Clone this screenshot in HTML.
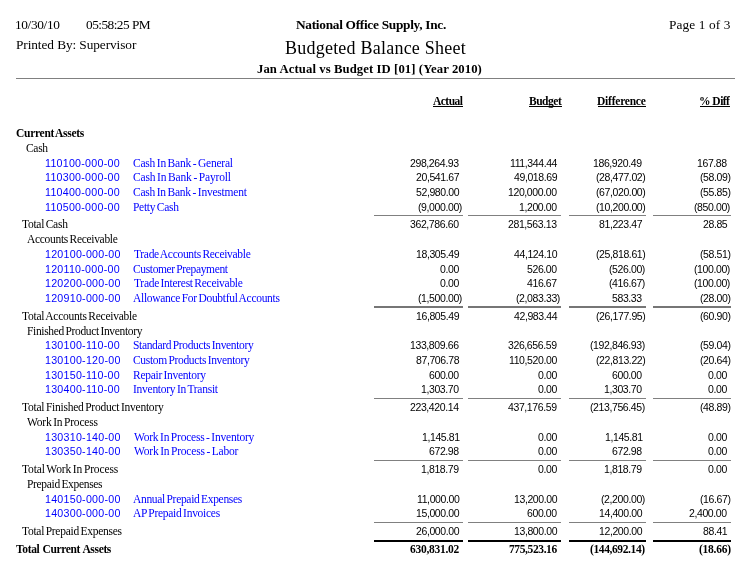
<!DOCTYPE html><html><head><meta charset='utf-8'><style>
html,body{margin:0;padding:0;background:#fff;}body{width:755px;height:563px;position:relative;overflow:hidden;}
.t{position:absolute;white-space:pre;line-height:20px;will-change:transform;}
.r{position:absolute;}
</style></head><body>
<div class='t' style="left:14.79px;top:15.00px;font-family:'Liberation Serif',serif;font-size:13.33px;letter-spacing:-0.358px;">10/30/10</div>
<div class='t' style="left:86.04px;top:15.00px;font-family:'Liberation Serif',serif;font-size:13.33px;letter-spacing:-0.534px;">05:58:25 PM</div>
<div class='t' style="left:15.59px;top:35.00px;font-family:'Liberation Serif',serif;font-size:13.33px;letter-spacing:-0.088px;">Printed By: Supervisor</div>
<div class='t' style="left:295.57px;top:15.00px;font-family:'Liberation Serif',serif;font-size:13.33px;font-weight:700;letter-spacing:-0.292px;">National Office Supply, Inc.</div>
<div class='t' style="left:284.56px;top:38.00px;font-family:'Liberation Serif',serif;font-size:18px;letter-spacing:0.226px;">Budgeted Balance Sheet</div>
<div class='t' style="left:256.53px;top:59.00px;font-family:'Liberation Serif',serif;font-size:12.7px;font-weight:700;letter-spacing:0.087px;">Jan Actual vs Budget ID [01] (Year 2010)</div>
<div class='t' style="left:669.30px;top:15.00px;font-family:'Liberation Serif',serif;font-size:13.33px;letter-spacing:0.102px;">Page 1 of 3</div>
<div class='t' style="left:432.95px;top:91.00px;font-family:'Liberation Serif',serif;font-size:11.5px;font-weight:700;letter-spacing:-0.522px;">Actual</div>
<div class='t' style="left:528.50px;top:91.00px;font-family:'Liberation Serif',serif;font-size:11.5px;font-weight:700;letter-spacing:-0.484px;">Budget</div>
<div class='t' style="left:597.46px;top:91.00px;font-family:'Liberation Serif',serif;font-size:11.5px;font-weight:700;letter-spacing:-0.224px;">Difference</div>
<div class='t' style="left:698.80px;top:91.00px;font-family:'Liberation Serif',serif;font-size:11.5px;font-weight:700;letter-spacing:-0.517px;">% Diff</div>
<div class='t' style="left:16.16px;top:123.00px;font-family:'Liberation Serif',serif;font-size:11.5px;font-weight:700;letter-spacing:-0.285px;word-spacing:-1.000px;">Current Assets</div>
<div class='t' style="left:26.05px;top:138.00px;font-family:'Liberation Serif',serif;font-size:11.5px;letter-spacing:-0.324px;word-spacing:-1.000px;">Cash</div>
<div class='t' style="left:45.05px;top:153.00px;font-family:'Liberation Sans',sans-serif;font-size:10.67px;color:#0000ff;letter-spacing:0.256px;">110100-000-00</div>
<div class='t' style="left:133.45px;top:153.00px;font-family:'Liberation Serif',serif;font-size:11.5px;color:#0000ff;letter-spacing:-0.218px;word-spacing:-1.000px;">Cash In Bank - General</div>
<div class='t' style="left:410.44px;top:153.00px;font-family:'Liberation Sans',sans-serif;font-size:10.5px;letter-spacing:-0.394px;">298,264.93</div>
<div class='t' style="left:510.27px;top:153.00px;font-family:'Liberation Sans',sans-serif;font-size:10.5px;letter-spacing:-0.394px;">111,344.44</div>
<div class='t' style="left:593.45px;top:153.00px;font-family:'Liberation Sans',sans-serif;font-size:10.5px;letter-spacing:-0.394px;">186,920.49</div>
<div class='t' style="left:697.42px;top:153.00px;font-family:'Liberation Sans',sans-serif;font-size:10.5px;letter-spacing:-0.394px;">167.88</div>
<div class='t' style="left:45.05px;top:167.00px;font-family:'Liberation Sans',sans-serif;font-size:10.67px;color:#0000ff;letter-spacing:0.256px;">110300-000-00</div>
<div class='t' style="left:133.45px;top:167.00px;font-family:'Liberation Serif',serif;font-size:11.5px;color:#0000ff;letter-spacing:-0.159px;word-spacing:-1.000px;">Cash In Bank - Payroll</div>
<div class='t' style="left:416.03px;top:167.00px;font-family:'Liberation Sans',sans-serif;font-size:10.5px;letter-spacing:-0.394px;">20,541.67</div>
<div class='t' style="left:514.04px;top:167.00px;font-family:'Liberation Sans',sans-serif;font-size:10.5px;letter-spacing:-0.394px;">49,018.69</div>
<div class='t' style="left:596.10px;top:167.00px;font-family:'Liberation Sans',sans-serif;font-size:10.5px;letter-spacing:-0.394px;">(28,477.02)</div>
<div class='t' style="left:699.70px;top:167.00px;font-family:'Liberation Sans',sans-serif;font-size:10.5px;letter-spacing:-0.394px;">(58.09)</div>
<div class='t' style="left:45.05px;top:182.00px;font-family:'Liberation Sans',sans-serif;font-size:10.67px;color:#0000ff;letter-spacing:0.256px;">110400-000-00</div>
<div class='t' style="left:133.45px;top:182.00px;font-family:'Liberation Serif',serif;font-size:11.5px;color:#0000ff;letter-spacing:-0.226px;word-spacing:-1.000px;">Cash In Bank - Investment</div>
<div class='t' style="left:415.87px;top:182.00px;font-family:'Liberation Sans',sans-serif;font-size:10.5px;letter-spacing:-0.394px;">52,980.00</div>
<div class='t' style="left:508.39px;top:182.00px;font-family:'Liberation Sans',sans-serif;font-size:10.5px;letter-spacing:-0.394px;">120,000.00</div>
<div class='t' style="left:596.10px;top:182.00px;font-family:'Liberation Sans',sans-serif;font-size:10.5px;letter-spacing:-0.394px;">(67,020.00)</div>
<div class='t' style="left:699.70px;top:182.00px;font-family:'Liberation Sans',sans-serif;font-size:10.5px;letter-spacing:-0.394px;">(55.85)</div>
<div class='t' style="left:45.05px;top:197.00px;font-family:'Liberation Sans',sans-serif;font-size:10.67px;color:#0000ff;letter-spacing:0.256px;">110500-000-00</div>
<div class='t' style="left:133.22px;top:197.00px;font-family:'Liberation Serif',serif;font-size:11.5px;color:#0000ff;letter-spacing:-0.283px;word-spacing:-1.000px;">Petty Cash</div>
<div class='t' style="left:418.46px;top:197.00px;font-family:'Liberation Sans',sans-serif;font-size:10.5px;letter-spacing:-0.394px;">(9,000.00)</div>
<div class='t' style="left:519.39px;top:197.00px;font-family:'Liberation Sans',sans-serif;font-size:10.5px;letter-spacing:-0.394px;">1,200.00</div>
<div class='t' style="left:596.10px;top:197.00px;font-family:'Liberation Sans',sans-serif;font-size:10.5px;letter-spacing:-0.394px;">(10,200.00)</div>
<div class='t' style="left:694.46px;top:197.00px;font-family:'Liberation Sans',sans-serif;font-size:10.5px;letter-spacing:-0.394px;">(850.00)</div>
<div class='t' style="left:22.21px;top:214.00px;font-family:'Liberation Serif',serif;font-size:11.5px;letter-spacing:-0.273px;word-spacing:-1.000px;">Total Cash</div>
<div class='t' style="left:410.39px;top:214.00px;font-family:'Liberation Sans',sans-serif;font-size:10.5px;letter-spacing:-0.394px;">362,786.60</div>
<div class='t' style="left:508.44px;top:214.00px;font-family:'Liberation Sans',sans-serif;font-size:10.5px;letter-spacing:-0.394px;">281,563.13</div>
<div class='t' style="left:599.03px;top:214.00px;font-family:'Liberation Sans',sans-serif;font-size:10.5px;letter-spacing:-0.394px;">81,223.47</div>
<div class='t' style="left:703.14px;top:214.00px;font-family:'Liberation Sans',sans-serif;font-size:10.5px;letter-spacing:-0.394px;">28.85</div>
<div class='t' style="left:26.73px;top:229.00px;font-family:'Liberation Serif',serif;font-size:11.5px;letter-spacing:-0.309px;word-spacing:-1.000px;">Accounts Receivable</div>
<div class='t' style="left:45.05px;top:244.00px;font-family:'Liberation Sans',sans-serif;font-size:10.67px;color:#0000ff;letter-spacing:0.256px;">120100-000-00</div>
<div class='t' style="left:133.71px;top:244.00px;font-family:'Liberation Serif',serif;font-size:11.5px;color:#0000ff;letter-spacing:-0.303px;word-spacing:-1.000px;">Trade Accounts Receivable</div>
<div class='t' style="left:416.04px;top:244.00px;font-family:'Liberation Sans',sans-serif;font-size:10.5px;letter-spacing:-0.394px;">18,305.49</div>
<div class='t' style="left:513.87px;top:244.00px;font-family:'Liberation Sans',sans-serif;font-size:10.5px;letter-spacing:-0.394px;">44,124.10</div>
<div class='t' style="left:596.10px;top:244.00px;font-family:'Liberation Sans',sans-serif;font-size:10.5px;letter-spacing:-0.394px;">(25,818.61)</div>
<div class='t' style="left:699.70px;top:244.00px;font-family:'Liberation Sans',sans-serif;font-size:10.5px;letter-spacing:-0.394px;">(58.51)</div>
<div class='t' style="left:45.05px;top:259.00px;font-family:'Liberation Sans',sans-serif;font-size:10.67px;color:#0000ff;letter-spacing:0.256px;">120110-000-00</div>
<div class='t' style="left:133.45px;top:259.00px;font-family:'Liberation Serif',serif;font-size:11.5px;color:#0000ff;letter-spacing:-0.363px;word-spacing:-1.000px;">Customer Prepayment</div>
<div class='t' style="left:440.15px;top:259.00px;font-family:'Liberation Sans',sans-serif;font-size:10.5px;letter-spacing:-0.394px;">0.00</div>
<div class='t' style="left:527.39px;top:259.00px;font-family:'Liberation Sans',sans-serif;font-size:10.5px;letter-spacing:-0.394px;">526.00</div>
<div class='t' style="left:609.46px;top:259.00px;font-family:'Liberation Sans',sans-serif;font-size:10.5px;letter-spacing:-0.394px;">(526.00)</div>
<div class='t' style="left:694.46px;top:259.00px;font-family:'Liberation Sans',sans-serif;font-size:10.5px;letter-spacing:-0.394px;">(100.00)</div>
<div class='t' style="left:45.05px;top:273.00px;font-family:'Liberation Sans',sans-serif;font-size:10.67px;color:#0000ff;letter-spacing:0.256px;">120200-000-00</div>
<div class='t' style="left:133.71px;top:273.00px;font-family:'Liberation Serif',serif;font-size:11.5px;color:#0000ff;letter-spacing:-0.285px;word-spacing:-1.000px;">Trade Interest Receivable</div>
<div class='t' style="left:440.15px;top:273.00px;font-family:'Liberation Sans',sans-serif;font-size:10.5px;letter-spacing:-0.394px;">0.00</div>
<div class='t' style="left:527.47px;top:273.00px;font-family:'Liberation Sans',sans-serif;font-size:10.5px;letter-spacing:-0.394px;">416.67</div>
<div class='t' style="left:609.46px;top:273.00px;font-family:'Liberation Sans',sans-serif;font-size:10.5px;letter-spacing:-0.394px;">(416.67)</div>
<div class='t' style="left:694.46px;top:273.00px;font-family:'Liberation Sans',sans-serif;font-size:10.5px;letter-spacing:-0.394px;">(100.00)</div>
<div class='t' style="left:45.05px;top:288.00px;font-family:'Liberation Sans',sans-serif;font-size:10.67px;color:#0000ff;letter-spacing:0.256px;">120910-000-00</div>
<div class='t' style="left:133.33px;top:288.00px;font-family:'Liberation Serif',serif;font-size:11.5px;color:#0000ff;letter-spacing:-0.293px;word-spacing:-1.000px;">Allowance For Doubtful Accounts</div>
<div class='t' style="left:418.46px;top:288.00px;font-family:'Liberation Sans',sans-serif;font-size:10.5px;letter-spacing:-0.394px;">(1,500.00)</div>
<div class='t' style="left:516.46px;top:288.00px;font-family:'Liberation Sans',sans-serif;font-size:10.5px;letter-spacing:-0.394px;">(2,083.33)</div>
<div class='t' style="left:612.44px;top:288.00px;font-family:'Liberation Sans',sans-serif;font-size:10.5px;letter-spacing:-0.394px;">583.33</div>
<div class='t' style="left:699.70px;top:288.00px;font-family:'Liberation Sans',sans-serif;font-size:10.5px;letter-spacing:-0.394px;">(28.00)</div>
<div class='t' style="left:22.21px;top:306.00px;font-family:'Liberation Serif',serif;font-size:11.5px;letter-spacing:-0.247px;word-spacing:-1.000px;">Total Accounts Receivable</div>
<div class='t' style="left:416.04px;top:306.00px;font-family:'Liberation Sans',sans-serif;font-size:10.5px;letter-spacing:-0.394px;">16,805.49</div>
<div class='t' style="left:514.20px;top:306.00px;font-family:'Liberation Sans',sans-serif;font-size:10.5px;letter-spacing:-0.394px;">42,983.44</div>
<div class='t' style="left:596.10px;top:306.00px;font-family:'Liberation Sans',sans-serif;font-size:10.5px;letter-spacing:-0.394px;">(26,177.95)</div>
<div class='t' style="left:699.70px;top:306.00px;font-family:'Liberation Sans',sans-serif;font-size:10.5px;letter-spacing:-0.394px;">(60.90)</div>
<div class='t' style="left:26.62px;top:321.00px;font-family:'Liberation Serif',serif;font-size:11.5px;letter-spacing:-0.336px;word-spacing:-1.000px;">Finished Product Inventory</div>
<div class='t' style="left:45.05px;top:335.00px;font-family:'Liberation Sans',sans-serif;font-size:10.67px;color:#0000ff;letter-spacing:0.256px;">130100-110-00</div>
<div class='t' style="left:133.22px;top:335.00px;font-family:'Liberation Serif',serif;font-size:11.5px;color:#0000ff;letter-spacing:-0.340px;word-spacing:-1.000px;">Standard Products Inventory</div>
<div class='t' style="left:410.43px;top:335.00px;font-family:'Liberation Sans',sans-serif;font-size:10.5px;letter-spacing:-0.394px;">133,809.66</div>
<div class='t' style="left:508.45px;top:335.00px;font-family:'Liberation Sans',sans-serif;font-size:10.5px;letter-spacing:-0.394px;">326,656.59</div>
<div class='t' style="left:590.46px;top:335.00px;font-family:'Liberation Sans',sans-serif;font-size:10.5px;letter-spacing:-0.394px;">(192,846.93)</div>
<div class='t' style="left:699.70px;top:335.00px;font-family:'Liberation Sans',sans-serif;font-size:10.5px;letter-spacing:-0.394px;">(59.04)</div>
<div class='t' style="left:45.05px;top:350.00px;font-family:'Liberation Sans',sans-serif;font-size:10.67px;color:#0000ff;letter-spacing:0.256px;">130100-120-00</div>
<div class='t' style="left:133.45px;top:350.00px;font-family:'Liberation Serif',serif;font-size:11.5px;color:#0000ff;letter-spacing:-0.321px;word-spacing:-1.000px;">Custom Products Inventory</div>
<div class='t' style="left:416.14px;top:350.00px;font-family:'Liberation Sans',sans-serif;font-size:10.5px;letter-spacing:-0.394px;">87,706.78</div>
<div class='t' style="left:509.15px;top:350.00px;font-family:'Liberation Sans',sans-serif;font-size:10.5px;letter-spacing:-0.394px;">110,520.00</div>
<div class='t' style="left:596.10px;top:350.00px;font-family:'Liberation Sans',sans-serif;font-size:10.5px;letter-spacing:-0.394px;">(22,813.22)</div>
<div class='t' style="left:699.70px;top:350.00px;font-family:'Liberation Sans',sans-serif;font-size:10.5px;letter-spacing:-0.394px;">(20.64)</div>
<div class='t' style="left:45.05px;top:365.00px;font-family:'Liberation Sans',sans-serif;font-size:10.67px;color:#0000ff;letter-spacing:0.256px;">130150-110-00</div>
<div class='t' style="left:133.22px;top:365.00px;font-family:'Liberation Serif',serif;font-size:11.5px;color:#0000ff;letter-spacing:-0.285px;word-spacing:-1.000px;">Repair Inventory</div>
<div class='t' style="left:429.39px;top:365.00px;font-family:'Liberation Sans',sans-serif;font-size:10.5px;letter-spacing:-0.394px;">600.00</div>
<div class='t' style="left:538.15px;top:365.00px;font-family:'Liberation Sans',sans-serif;font-size:10.5px;letter-spacing:-0.394px;">0.00</div>
<div class='t' style="left:612.39px;top:365.00px;font-family:'Liberation Sans',sans-serif;font-size:10.5px;letter-spacing:-0.394px;">600.00</div>
<div class='t' style="left:708.15px;top:365.00px;font-family:'Liberation Sans',sans-serif;font-size:10.5px;letter-spacing:-0.394px;">0.00</div>
<div class='t' style="left:45.05px;top:379.00px;font-family:'Liberation Sans',sans-serif;font-size:10.67px;color:#0000ff;letter-spacing:0.256px;">130400-110-00</div>
<div class='t' style="left:133.18px;top:379.00px;font-family:'Liberation Serif',serif;font-size:11.5px;color:#0000ff;letter-spacing:-0.263px;word-spacing:-1.000px;">Inventory In Transit</div>
<div class='t' style="left:421.39px;top:379.00px;font-family:'Liberation Sans',sans-serif;font-size:10.5px;letter-spacing:-0.394px;">1,303.70</div>
<div class='t' style="left:538.15px;top:379.00px;font-family:'Liberation Sans',sans-serif;font-size:10.5px;letter-spacing:-0.394px;">0.00</div>
<div class='t' style="left:604.39px;top:379.00px;font-family:'Liberation Sans',sans-serif;font-size:10.5px;letter-spacing:-0.394px;">1,303.70</div>
<div class='t' style="left:708.15px;top:379.00px;font-family:'Liberation Sans',sans-serif;font-size:10.5px;letter-spacing:-0.394px;">0.00</div>
<div class='t' style="left:22.21px;top:397.00px;font-family:'Liberation Serif',serif;font-size:11.5px;letter-spacing:-0.241px;word-spacing:-1.000px;">Total Finished Product Inventory</div>
<div class='t' style="left:410.43px;top:397.00px;font-family:'Liberation Sans',sans-serif;font-size:10.5px;letter-spacing:-0.394px;">223,420.14</div>
<div class='t' style="left:508.45px;top:397.00px;font-family:'Liberation Sans',sans-serif;font-size:10.5px;letter-spacing:-0.394px;">437,176.59</div>
<div class='t' style="left:590.46px;top:397.00px;font-family:'Liberation Sans',sans-serif;font-size:10.5px;letter-spacing:-0.394px;">(213,756.45)</div>
<div class='t' style="left:699.70px;top:397.00px;font-family:'Liberation Sans',sans-serif;font-size:10.5px;letter-spacing:-0.394px;">(48.89)</div>
<div class='t' style="left:26.92px;top:412.00px;font-family:'Liberation Serif',serif;font-size:11.5px;letter-spacing:-0.197px;word-spacing:-1.000px;">Work In Process</div>
<div class='t' style="left:45.05px;top:427.00px;font-family:'Liberation Sans',sans-serif;font-size:10.67px;color:#0000ff;letter-spacing:0.256px;">130310-140-00</div>
<div class='t' style="left:133.52px;top:427.00px;font-family:'Liberation Serif',serif;font-size:11.5px;color:#0000ff;letter-spacing:-0.219px;word-spacing:-1.000px;">Work In Process - Inventory</div>
<div class='t' style="left:421.57px;top:427.00px;font-family:'Liberation Sans',sans-serif;font-size:10.5px;letter-spacing:-0.394px;">1,145.81</div>
<div class='t' style="left:538.15px;top:427.00px;font-family:'Liberation Sans',sans-serif;font-size:10.5px;letter-spacing:-0.394px;">0.00</div>
<div class='t' style="left:604.57px;top:427.00px;font-family:'Liberation Sans',sans-serif;font-size:10.5px;letter-spacing:-0.394px;">1,145.81</div>
<div class='t' style="left:708.15px;top:427.00px;font-family:'Liberation Sans',sans-serif;font-size:10.5px;letter-spacing:-0.394px;">0.00</div>
<div class='t' style="left:45.05px;top:441.00px;font-family:'Liberation Sans',sans-serif;font-size:10.67px;color:#0000ff;letter-spacing:0.256px;">130350-140-00</div>
<div class='t' style="left:133.52px;top:441.00px;font-family:'Liberation Serif',serif;font-size:11.5px;color:#0000ff;letter-spacing:-0.200px;word-spacing:-1.000px;">Work In Process - Labor</div>
<div class='t' style="left:429.42px;top:441.00px;font-family:'Liberation Sans',sans-serif;font-size:10.5px;letter-spacing:-0.394px;">672.98</div>
<div class='t' style="left:538.15px;top:441.00px;font-family:'Liberation Sans',sans-serif;font-size:10.5px;letter-spacing:-0.394px;">0.00</div>
<div class='t' style="left:612.42px;top:441.00px;font-family:'Liberation Sans',sans-serif;font-size:10.5px;letter-spacing:-0.394px;">672.98</div>
<div class='t' style="left:708.15px;top:441.00px;font-family:'Liberation Sans',sans-serif;font-size:10.5px;letter-spacing:-0.394px;">0.00</div>
<div class='t' style="left:22.21px;top:459.00px;font-family:'Liberation Serif',serif;font-size:11.5px;letter-spacing:-0.130px;word-spacing:-1.000px;">Total Work In Process</div>
<div class='t' style="left:421.45px;top:459.00px;font-family:'Liberation Sans',sans-serif;font-size:10.5px;letter-spacing:-0.394px;">1,818.79</div>
<div class='t' style="left:538.15px;top:459.00px;font-family:'Liberation Sans',sans-serif;font-size:10.5px;letter-spacing:-0.394px;">0.00</div>
<div class='t' style="left:604.45px;top:459.00px;font-family:'Liberation Sans',sans-serif;font-size:10.5px;letter-spacing:-0.394px;">1,818.79</div>
<div class='t' style="left:708.15px;top:459.00px;font-family:'Liberation Sans',sans-serif;font-size:10.5px;letter-spacing:-0.394px;">0.00</div>
<div class='t' style="left:26.62px;top:474.00px;font-family:'Liberation Serif',serif;font-size:11.5px;letter-spacing:-0.324px;word-spacing:-1.000px;">Prepaid Expenses</div>
<div class='t' style="left:45.05px;top:489.00px;font-family:'Liberation Sans',sans-serif;font-size:10.67px;color:#0000ff;letter-spacing:0.256px;">140150-000-00</div>
<div class='t' style="left:133.33px;top:489.00px;font-family:'Liberation Serif',serif;font-size:11.5px;color:#0000ff;letter-spacing:-0.314px;word-spacing:-1.000px;">Annual Prepaid Expenses</div>
<div class='t' style="left:416.63px;top:489.00px;font-family:'Liberation Sans',sans-serif;font-size:10.5px;letter-spacing:-0.394px;">11,000.00</div>
<div class='t' style="left:513.87px;top:489.00px;font-family:'Liberation Sans',sans-serif;font-size:10.5px;letter-spacing:-0.394px;">13,200.00</div>
<div class='t' style="left:601.46px;top:489.00px;font-family:'Liberation Sans',sans-serif;font-size:10.5px;letter-spacing:-0.394px;">(2,200.00)</div>
<div class='t' style="left:699.70px;top:489.00px;font-family:'Liberation Sans',sans-serif;font-size:10.5px;letter-spacing:-0.394px;">(16.67)</div>
<div class='t' style="left:45.05px;top:503.00px;font-family:'Liberation Sans',sans-serif;font-size:10.67px;color:#0000ff;letter-spacing:0.256px;">140300-000-00</div>
<div class='t' style="left:133.33px;top:503.00px;font-family:'Liberation Serif',serif;font-size:11.5px;color:#0000ff;letter-spacing:-0.276px;word-spacing:-1.000px;">AP Prepaid Invoices</div>
<div class='t' style="left:415.87px;top:503.00px;font-family:'Liberation Sans',sans-serif;font-size:10.5px;letter-spacing:-0.394px;">15,000.00</div>
<div class='t' style="left:527.39px;top:503.00px;font-family:'Liberation Sans',sans-serif;font-size:10.5px;letter-spacing:-0.394px;">600.00</div>
<div class='t' style="left:598.87px;top:503.00px;font-family:'Liberation Sans',sans-serif;font-size:10.5px;letter-spacing:-0.394px;">14,400.00</div>
<div class='t' style="left:689.39px;top:503.00px;font-family:'Liberation Sans',sans-serif;font-size:10.5px;letter-spacing:-0.394px;">2,400.00</div>
<div class='t' style="left:22.21px;top:521.00px;font-family:'Liberation Serif',serif;font-size:11.5px;letter-spacing:-0.275px;word-spacing:-1.000px;">Total Prepaid Expenses</div>
<div class='t' style="left:415.87px;top:521.00px;font-family:'Liberation Sans',sans-serif;font-size:10.5px;letter-spacing:-0.394px;">26,000.00</div>
<div class='t' style="left:513.87px;top:521.00px;font-family:'Liberation Sans',sans-serif;font-size:10.5px;letter-spacing:-0.394px;">13,800.00</div>
<div class='t' style="left:598.87px;top:521.00px;font-family:'Liberation Sans',sans-serif;font-size:10.5px;letter-spacing:-0.394px;">12,200.00</div>
<div class='t' style="left:703.27px;top:521.00px;font-family:'Liberation Sans',sans-serif;font-size:10.5px;letter-spacing:-0.394px;">88.41</div>
<div class='t' style="left:16.05px;top:539.00px;font-family:'Liberation Serif',serif;font-size:11.5px;font-weight:700;letter-spacing:-0.348px;word-spacing:0.500px;">Total Current Assets</div>
<div class='t' style="left:410.07px;top:539.00px;font-family:'Liberation Serif',serif;font-size:11.5px;font-weight:700;letter-spacing:-0.281px;">630,831.02</div>
<div class='t' style="left:508.76px;top:539.00px;font-family:'Liberation Serif',serif;font-size:11.5px;font-weight:700;letter-spacing:-0.392px;">775,523.16</div>
<div class='t' style="left:590.06px;top:539.00px;font-family:'Liberation Serif',serif;font-size:11.5px;font-weight:700;letter-spacing:-0.389px;">(144,692.14)</div>
<div class='t' style="left:699.26px;top:539.00px;font-family:'Liberation Serif',serif;font-size:11.5px;font-weight:700;letter-spacing:-0.239px;">(18.66)</div>
<div class='r' style='left:16.00px;top:78.00px;width:719.00px;height:1.00px;background:#808080'></div>
<div class='r' style='left:374.00px;top:215.00px;width:89.00px;height:1.00px;background:#808080'></div>
<div class='r' style='left:468.00px;top:215.00px;width:93.00px;height:1.00px;background:#808080'></div>
<div class='r' style='left:569.00px;top:215.00px;width:77.00px;height:1.00px;background:#808080'></div>
<div class='r' style='left:653.00px;top:215.00px;width:78.00px;height:1.00px;background:#808080'></div>
<div class='r' style='left:374.00px;top:306.00px;width:89.00px;height:2.00px;background:#767676'></div>
<div class='r' style='left:468.00px;top:306.00px;width:93.00px;height:2.00px;background:#767676'></div>
<div class='r' style='left:569.00px;top:306.00px;width:77.00px;height:2.00px;background:#767676'></div>
<div class='r' style='left:653.00px;top:306.00px;width:78.00px;height:2.00px;background:#767676'></div>
<div class='r' style='left:374.00px;top:398.00px;width:89.00px;height:1.00px;background:#808080'></div>
<div class='r' style='left:468.00px;top:398.00px;width:93.00px;height:1.00px;background:#808080'></div>
<div class='r' style='left:569.00px;top:398.00px;width:77.00px;height:1.00px;background:#808080'></div>
<div class='r' style='left:653.00px;top:398.00px;width:78.00px;height:1.00px;background:#808080'></div>
<div class='r' style='left:374.00px;top:460.00px;width:89.00px;height:1.00px;background:#808080'></div>
<div class='r' style='left:468.00px;top:460.00px;width:93.00px;height:1.00px;background:#808080'></div>
<div class='r' style='left:569.00px;top:460.00px;width:77.00px;height:1.00px;background:#808080'></div>
<div class='r' style='left:653.00px;top:460.00px;width:78.00px;height:1.00px;background:#808080'></div>
<div class='r' style='left:374.00px;top:522.00px;width:89.00px;height:1.00px;background:#808080'></div>
<div class='r' style='left:468.00px;top:522.00px;width:93.00px;height:1.00px;background:#808080'></div>
<div class='r' style='left:569.00px;top:522.00px;width:77.00px;height:1.00px;background:#808080'></div>
<div class='r' style='left:653.00px;top:522.00px;width:78.00px;height:1.00px;background:#808080'></div>
<div class='r' style='left:374.00px;top:540.00px;width:89.00px;height:2.00px;background:#000'></div>
<div class='r' style='left:468.00px;top:540.00px;width:93.00px;height:2.00px;background:#000'></div>
<div class='r' style='left:569.00px;top:540.00px;width:77.00px;height:2.00px;background:#000'></div>
<div class='r' style='left:653.00px;top:540.00px;width:78.00px;height:2.00px;background:#000'></div>
<div class='r' style='left:432.89px;top:106.40px;width:30.11px;height:1.00px;background:#000'></div>
<div class='r' style='left:528.62px;top:106.40px;width:32.98px;height:1.00px;background:#000'></div>
<div class='r' style='left:597.59px;top:106.40px;width:48.91px;height:1.00px;background:#000'></div>
<div class='r' style='left:699.68px;top:106.40px;width:30.52px;height:1.00px;background:#000'></div>
</body></html>
